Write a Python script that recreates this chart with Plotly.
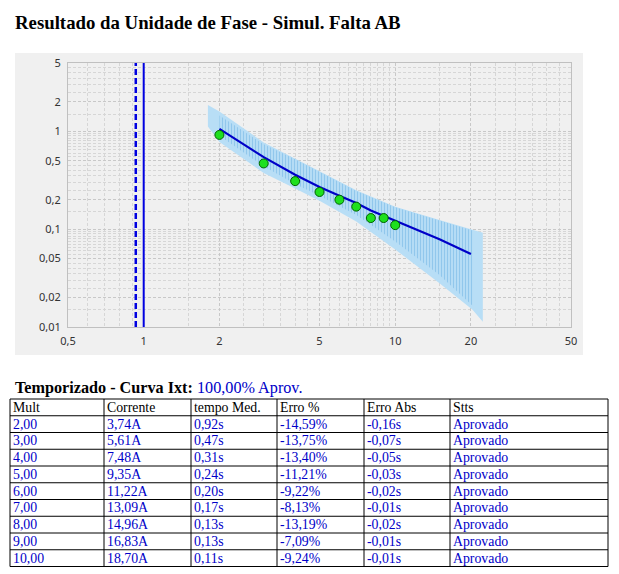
import plotly.graph_objects as go

# ---------------- data ----------------
mult = [2, 3, 4, 5, 6, 7, 8, 9, 10]
corrente = [3.74, 5.61, 7.48, 9.35, 11.22, 13.09, 14.96, 16.83, 18.70]
tempo_med = [0.92, 0.47, 0.31, 0.24, 0.20, 0.17, 0.13, 0.13, 0.11]
erro_pct = [-14.59, -13.75, -13.40, -11.21, -9.22, -8.13, -13.19, -7.09, -9.24]
erro_abs = [-0.16, -0.07, -0.05, -0.03, -0.02, -0.01, -0.02, -0.01, -0.01]
status = ["Aprovado"] * 9

curve_m = [2, 2.5, 3, 4, 5, 6, 7, 8, 9, 10, 12, 15, 20]
curve_t = [1.06, 0.74, 0.545, 0.36, 0.27, 0.22, 0.185, 0.155, 0.137, 0.121, 0.101, 0.079, 0.0557]

outer_up_m = [1.8, 2, 3, 4, 5, 7, 10, 15, 20.3, 22.3]
outer_up_t = [1.86, 1.6, 0.77, 0.53, 0.39, 0.25, 0.17, 0.124, 0.098, 0.092]
outer_lo_m = [1.8, 2, 3, 4, 5, 7, 10, 15, 20.3, 22.3]
outer_lo_t = [1.12, 0.78, 0.375, 0.26, 0.195, 0.12, 0.062, 0.028, 0.015, 0.0113]

hatch_m = [2, 3, 4, 5, 7, 10, 15, 20.3]
hatch_up_t = [1.45, 0.74, 0.52, 0.385, 0.245, 0.168, 0.122, 0.097]
hatch_lo_t = [0.9, 0.44, 0.29, 0.22, 0.14, 0.075, 0.034, 0.0165]

pickup = [1.0]
pickup_tol = [0.93]

x_ticks = [0.5, 1, 2, 5, 10, 20, 50]
x_ticktext = ["0,5", "1", "2", "5", "10", "20", "50"]
y_ticks = [0.01, 0.02, 0.05, 0.1, 0.2, 0.5, 1, 2, 5]
y_ticktext = ["0,01", "0,02", "0,05", "0,1", "0,2", "0,5", "1", "2", "5"]

header = ["Mult", "Corrente", "tempo Med.", "Erro %", "Erro Abs", "Stts"]

# ---------------- figure ----------------
W, H = 619, 574
def px(v): return v / W
def py(v): return 1 - v / H

# minor grid positions (half-step linear grid within each decade)
x_grid = [0.6, 0.7, 0.8, 0.9] + [1 + 0.5 * k for k in range(1, 19)] + [10 + 5 * k for k in range(1, 9)]
y_grid = ([0.01 + 0.005 * k for k in range(1, 18)] + [0.1 + 0.05 * k for k in range(1, 18)]
          + [1 + 0.5 * k for k in range(1, 8)])

fig = go.Figure()

band_color = "#b8def6"
fig.add_trace(go.Scatter(
    x=outer_up_m + outer_lo_m[::-1], y=outer_up_t + outer_lo_t[::-1],
    fill="toself", fillcolor=band_color, mode="lines", line=dict(width=0),
    hoverinfo="skip", showlegend=False))
fig.add_trace(go.Scatter(
    x=hatch_m + hatch_m[::-1], y=hatch_up_t + hatch_lo_t[::-1],
    fill="toself", mode="lines", line=dict(width=0),
    fillpattern=dict(shape="|", fgcolor="#6aafe2", bgcolor=band_color, size=3, solidity=0.4),
    hoverinfo="skip", showlegend=False))
fig.add_trace(go.Scatter(
    x=curve_m, y=curve_t, mode="lines", line=dict(color="#0000c8", width=2.2),
    showlegend=False))
fig.add_trace(go.Scatter(
    x=pickup_tol * 2, y=[0.01, 5], mode="lines",
    line=dict(color="#0000e0", width=2.5, dash="6px,3px"), showlegend=False))
fig.add_trace(go.Scatter(
    x=pickup * 2, y=[0.01, 5], mode="lines",
    line=dict(color="#0000e0", width=2), showlegend=False))
fig.add_trace(go.Scatter(
    x=mult, y=tempo_med, mode="markers",
    marker=dict(size=9, color="#1ee01e", line=dict(color="#006400", width=1)),
    showlegend=False))

axis_font = dict(family="Noto Sans", size=11, color="#333333")
fig.update_xaxes(
    type="log", range=[-0.30103, 1.69897], domain=[px(68), px(571)], automargin=False,
    tickvals=x_ticks, ticktext=x_ticktext, tickfont=axis_font,
    ticks="outside", ticklen=4, tickcolor="rgba(0,0,0,0)",
    showgrid=True, gridcolor="#c8c8c8", gridwidth=1, griddash="3px,2px",
    minor=dict(tickvals=x_grid, showgrid=True, gridcolor="#d6d6d6", griddash="3px,2px", ticks=""),
    showline=True, linecolor="#c0c0c0", mirror=True, zeroline=False, fixedrange=True)
fig.update_yaxes(
    type="log", range=[-2, 0.69897], domain=[py(327), py(63)], automargin=False,
    tickvals=y_ticks, ticktext=y_ticktext, tickfont=axis_font,
    ticks="outside", ticklen=4, tickcolor="rgba(0,0,0,0)",
    showgrid=True, gridcolor="#c8c8c8", gridwidth=1, griddash="3px,2px",
    minor=dict(tickvals=y_grid, showgrid=True, gridcolor="#d6d6d6", griddash="3px,2px", ticks=""),
    showline=True, linecolor="#c0c0c0", mirror=True, zeroline=False, fixedrange=True)

# grey chart panel
fig.add_shape(type="rect", xref="paper", yref="paper",
              x0=px(15), x1=px(583), y0=py(355), y1=py(53),
              fillcolor="#f0f0f0", line=dict(width=0), layer="below")

# titles
fig.add_annotation(xref="paper", yref="paper", x=px(13), y=py(22), xanchor="left", yanchor="middle",
                   text="<b>Resultado da Unidade de Fase - Simul. Falta AB</b>", showarrow=False,
                   font=dict(family="Liberation Serif", size=18.8, color="black"))
fig.add_annotation(xref="paper", yref="paper", x=px(13), y=py(388), xanchor="left", yanchor="middle",
                   text="<b>Temporizado - Curva Ixt:</b> <span style='color:#0000c8'>100,00% Aprov.</span>",
                   showarrow=False,
                   font=dict(family="Liberation Serif", size=16.2, color="black"))

# ---------------- table (lines + text) ----------------
fmt = lambda v, d=2: f"{v:.{d}f}".replace(".", ",")
columns = [
    [fmt(v) for v in mult],
    [fmt(v) + "A" for v in corrente],
    [fmt(v) + "s" for v in tempo_med],
    [fmt(v) + "%" for v in erro_pct],
    [fmt(v) + "s" for v in erro_abs],
    status,
]
col_x = [10, 104, 191, 277, 364, 450, 608]
top, row_h = 399, 16.75
n_rows = len(mult) + 1
bottom = top + row_h * n_rows

for xv in col_x:
    fig.add_shape(type="line", xref="paper", yref="paper",
                  x0=px(xv), x1=px(xv), y0=py(top), y1=py(bottom),
                  line=dict(color="black", width=1))
for r in range(n_rows + 1):
    yv = top + row_h * r
    fig.add_shape(type="line", xref="paper", yref="paper",
                  x0=px(col_x[0]), x1=px(col_x[-1]), y0=py(yv), y1=py(yv),
                  line=dict(color="black", width=1))

for c, name in enumerate(header):
    fig.add_annotation(xref="paper", yref="paper", x=px(col_x[c] + 1), y=py(top + row_h / 2),
                       xanchor="left", yanchor="middle", text=name, showarrow=False,
                       font=dict(family="Liberation Serif", size=13.8, color="black"))
for c, col in enumerate(columns):
    for r, val in enumerate(col):
        fig.add_annotation(xref="paper", yref="paper", x=px(col_x[c] + 1),
                           y=py(top + row_h * (r + 1.5)),
                           xanchor="left", yanchor="middle", text=val, showarrow=False,
                           font=dict(family="Liberation Serif", size=13.8, color="#0000c8"))

fig.update_layout(
    width=W, height=H, margin=dict(l=0, r=0, t=0, b=0, autoexpand=False),
    paper_bgcolor="white", plot_bgcolor="#f9f9f9", showlegend=False,
)

fig.write_html("out.html", config={"displayModeBar": False})
